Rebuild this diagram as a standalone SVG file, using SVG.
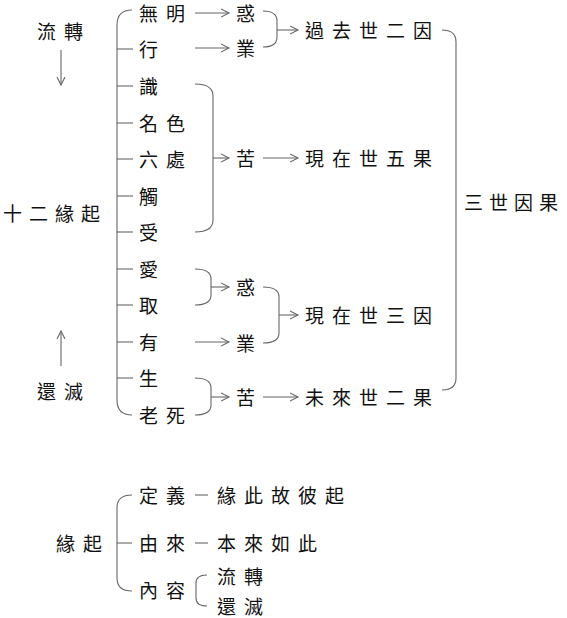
<svg xmlns="http://www.w3.org/2000/svg" width="567" height="618" viewBox="0 0 567 618">
<style>
text{font-family:"Noto Sans CJK TC","Noto Sans CJK SC",sans-serif;font-size:19px;fill:#111;letter-spacing:8px;dominant-baseline:central}
.c path,.c line{stroke:#666;stroke-width:1.1;fill:none}
.a{marker-end:url(#ah)}
</style>
<defs>
<marker id="ah" markerUnits="userSpaceOnUse" markerWidth="10" markerHeight="10" refX="8" refY="5" orient="auto">
<path d="M0,1 L8,5 L0,9" fill="none" stroke="#666" stroke-width="1.1"/>
</marker>
</defs>
<rect width="567" height="618" fill="#fff"/>
<g class="c" id="connectors">
<line class="a" x1="61" y1="50" x2="61" y2="85"/>
<line class="a" x1="61" y1="366" x2="61" y2="331"/>
<path d="M132,10 Q117,10 117,25 L117,400 Q117,415 132,415"/>
<line x1="117" y1="49" x2="133" y2="49"/>
<line x1="117" y1="86" x2="133" y2="86"/>
<line x1="117" y1="123" x2="133" y2="123"/>
<line x1="117" y1="159" x2="133" y2="159"/>
<line x1="117" y1="196" x2="133" y2="196"/>
<line x1="117" y1="232" x2="133" y2="232"/>
<line x1="117" y1="269" x2="133" y2="269"/>
<line x1="117" y1="305" x2="133" y2="305"/>
<line x1="117" y1="342" x2="133" y2="342"/>
<line x1="117" y1="378" x2="133" y2="378"/>
<line class="a" x1="195" y1="13" x2="229" y2="13"/>
<line class="a" x1="195" y1="48" x2="229" y2="48"/>
<path d="M263,11 Q277,11 277,21 L277,37 Q277,47 263,47"/>
<line class="a" x1="277" y1="30" x2="298" y2="30"/>
<path d="M195,84 Q213,84 213,96 L213,220 Q213,232 195,232"/>
<line class="a" x1="213" y1="158" x2="229" y2="158"/>
<line class="a" x1="263" y1="158" x2="298" y2="158"/>
<path d="M195,269 Q211,269 211,279 L211,295 Q211,305 195,305"/>
<line class="a" x1="211" y1="287" x2="229" y2="287"/>
<line class="a" x1="195" y1="342" x2="229" y2="342"/>
<path d="M263,287 Q279,287 279,297 L279,333 Q279,343 263,343"/>
<line class="a" x1="279" y1="315" x2="298" y2="315"/>
<path d="M195,378 Q211,378 211,388 L211,405 Q211,415 195,415"/>
<line class="a" x1="211" y1="397" x2="229" y2="397"/>
<line class="a" x1="263" y1="397" x2="298" y2="397"/>
<path d="M442,30 Q456,30 456,42 L456,378 Q456,390 442,390"/>
<path d="M132,495 Q117,495 117,508 L117,578 Q117,591 132,591"/>
<line x1="117" y1="543" x2="132" y2="543"/>
<line x1="195" y1="495" x2="208" y2="495"/>
<line x1="195" y1="543" x2="208" y2="543"/>
<path d="M207,575 Q196,575 196,583 L196,598 Q196,606 207,606"/>
</g>
<g id="liuzhuan"><text x="37" y="30">流轉</text></g>
<g id="huanmie"><text x="37" y="390">還滅</text></g>
<g id="shier"><text x="3" y="212" style="letter-spacing:7px">十二緣起</text></g>
<g id="r1"><text x="139" y="12">無明</text></g>
<g id="r2"><text x="139" y="48">行</text></g>
<g id="r3"><text x="139" y="85">識</text></g>
<g id="r4"><text x="139" y="122">名色</text></g>
<g id="r5"><text x="139" y="158">六處</text></g>
<g id="r6"><text x="139" y="195">觸</text></g>
<g id="r7"><text x="139" y="231">受</text></g>
<g id="r8"><text x="139" y="268">愛</text></g>
<g id="r9"><text x="139" y="304">取</text></g>
<g id="r10"><text x="139" y="341">有</text></g>
<g id="r11"><text x="139" y="377">生</text></g>
<g id="r12"><text x="139" y="414">老死</text></g>
<g id="huo1"><text x="236" y="12">惑</text></g>
<g id="ye1"><text x="236" y="47">業</text></g>
<g id="ku1"><text x="236" y="157">苦</text></g>
<g id="huo2"><text x="236" y="286">惑</text></g>
<g id="ye2"><text x="236" y="342">業</text></g>
<g id="ku2"><text x="236" y="396">苦</text></g>
<g id="g1"><text x="305" y="29">過去世二因</text></g>
<g id="g2"><text x="305" y="157">現在世五果</text></g>
<g id="g3"><text x="305" y="314">現在世三因</text></g>
<g id="g4"><text x="305" y="396">未來世二果</text></g>
<g id="sanshi"><text x="464" y="201" style="letter-spacing:6px">三世因果</text></g>
<g id="yuanqi"><text x="56" y="542">緣起</text></g>
<g id="dingyi"><text x="139" y="494">定義</text></g>
<g id="d1"><text x="217" y="494">緣此故彼起</text></g>
<g id="youlai"><text x="139" y="542">由來</text></g>
<g id="d2"><text x="217" y="542">本來如此</text></g>
<g id="neirong"><text x="139" y="589">內容</text></g>
<g id="d3"><text x="217" y="575">流轉</text></g>
<g id="d4"><text x="217" y="605">還滅</text></g>
</svg>
